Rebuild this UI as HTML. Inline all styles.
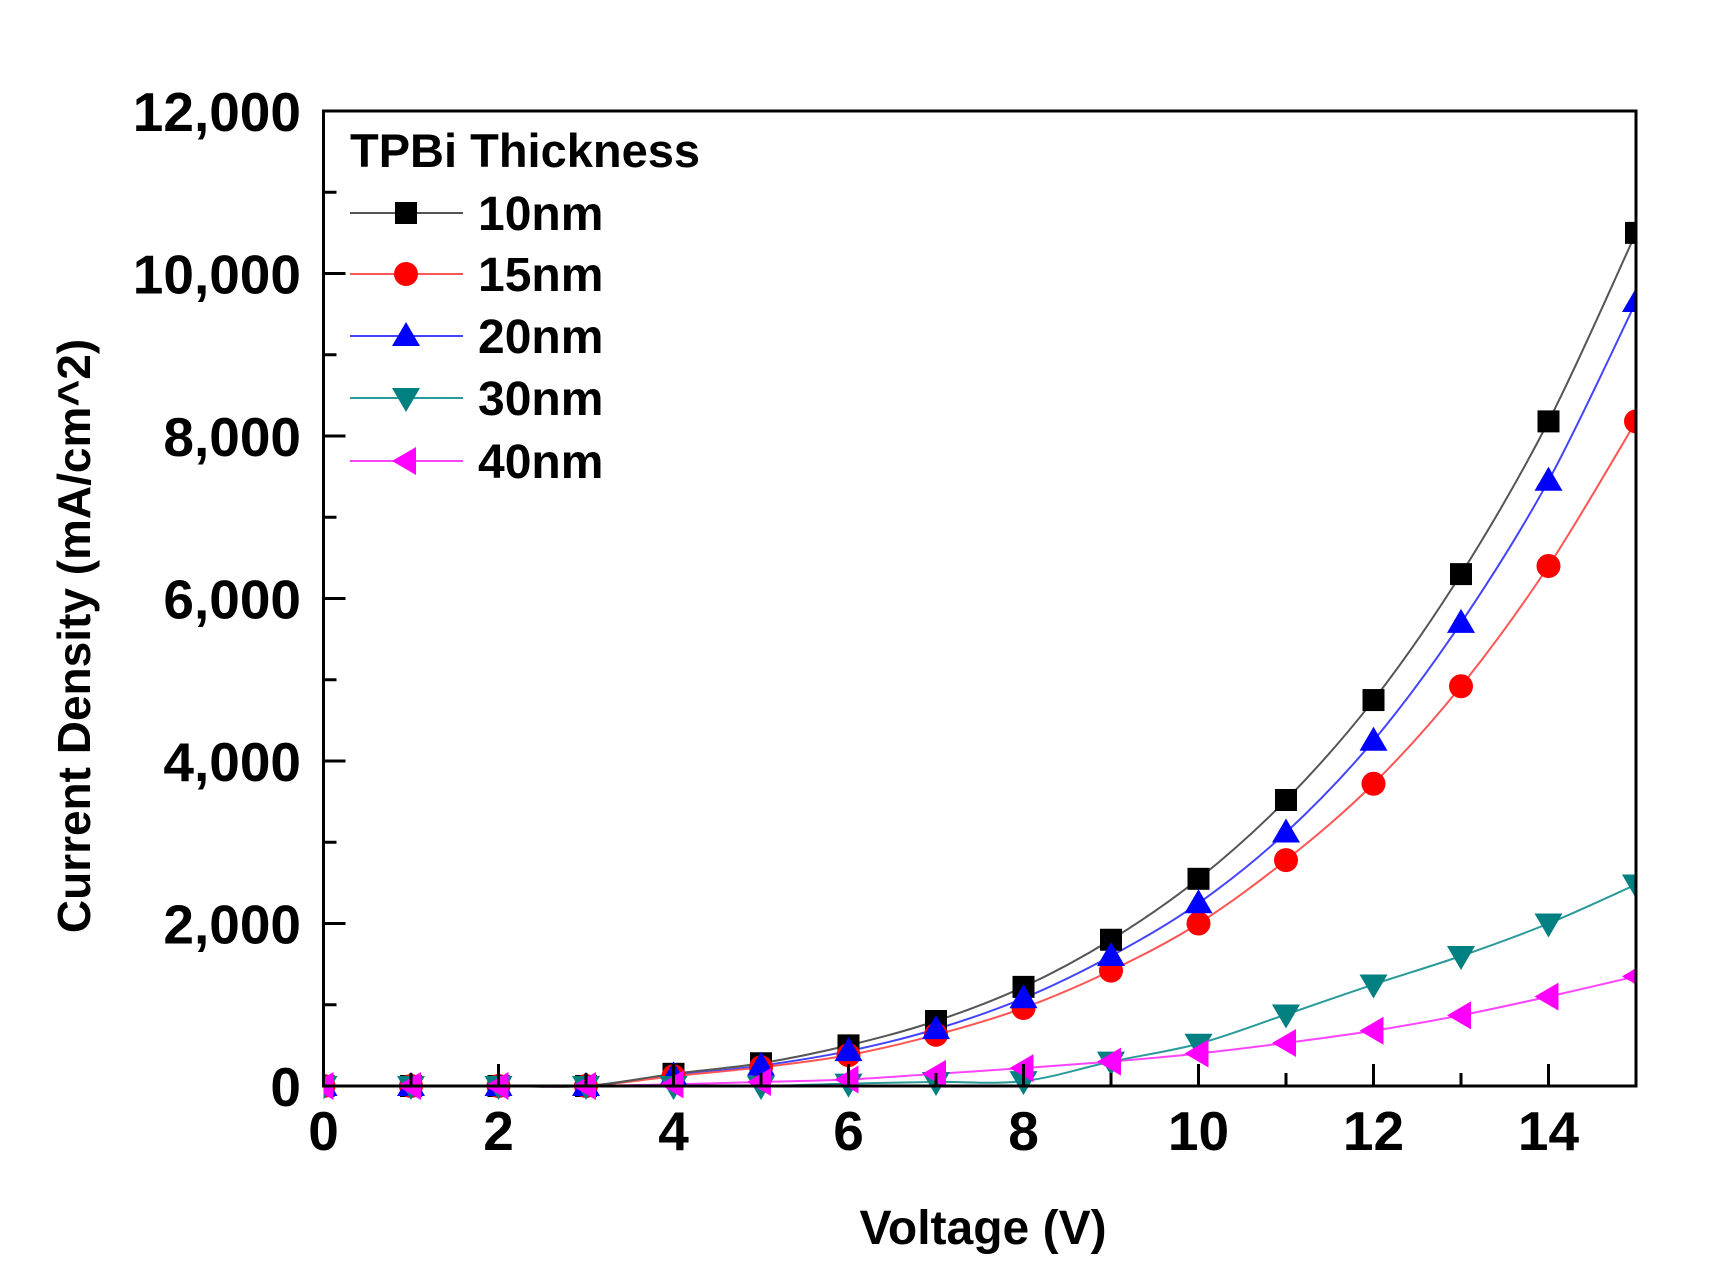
<!DOCTYPE html>
<html><head><meta charset="utf-8"><style>
html,body{margin:0;padding:0;background:#fff;}
svg{display:block;}
text{font-family:"Liberation Sans",Arial,sans-serif;font-weight:bold;fill:#000;}
</style></head><body>
<svg id="s" width="1710" height="1284" viewBox="0 0 1710 1284" xmlns="http://www.w3.org/2000/svg"></svg>
<script>
const s=document.getElementById('s');
const X0=323.5,XS=87.5,Y0=1086,YS=0.08125;
const px=v=>X0+v*XS, py=v=>Y0-v*YS;
let h='';
const series=[
 {c:'#000',lc:'#555',m:'sq',d:[0,0,0,0,150,280,500,800,1220,1800,2550,3520,4750,6300,8180,10500]},
 {c:'#ff0000',lc:'#f55',m:'ci',d:[0,0,0,0,120,230,380,630,960,1420,2000,2780,3720,4920,6400,8180]},
 {c:'#0000ff',lc:'#44f',m:'up',d:[0,0,0,0,130,250,430,700,1080,1600,2250,3120,4250,5700,7450,9650]},
 {c:'#008080',lc:'#2a9a9a',m:'dn',d:[0,0,0,0,0,0,30,50,60,300,520,880,1250,1600,2000,2480]},
 {c:'#ff00ff',lc:'#f4f',m:'lt',d:[0,0,0,0,20,50,80,150,220,300,400,530,680,870,1100,1350]}
];
function marker(t,x,y,c){
 if(t==='sq')return `<rect x="${x-11}" y="${y-11}" width="22" height="22" fill="${c}"/>`;
 if(t==='ci')return `<circle cx="${x}" cy="${y}" r="12" fill="${c}"/>`;
 if(t==='up')return `<polygon points="${x},${y-14} ${x+14},${y+10} ${x-14},${y+10}" fill="${c}"/>`;
 if(t==='dn')return `<polygon points="${x},${y+14} ${x+14},${y-10} ${x-14},${y-10}" fill="${c}"/>`;
 return `<polygon points="${x-14},${y} ${x+10},${y-14} ${x+10},${y+14}" fill="${c}"/>`;
}
function path(pts){
 let d=`M${pts[0][0]},${pts[0][1]}`;
 for(let i=0;i<pts.length-1;i++){
  const p0=pts[Math.max(0,i-1)],p1=pts[i],p2=pts[i+1],p3=pts[Math.min(pts.length-1,i+2)];
  const c1=[p1[0]+(p2[0]-p0[0])/6,p1[1]+(p2[1]-p0[1])/6],c2=[p2[0]-(p3[0]-p1[0])/6,p2[1]-(p3[1]-p1[1])/6];
  d+=` C${c1[0]},${c1[1]} ${c2[0]},${c2[1]} ${p2[0]},${p2[1]}`;
 }
 return d;
}
h+=`<defs><clipPath id="cp"><rect x="${X0}" y="111" width="${px(15)-X0}" height="${Y0-111+15}"/></clipPath></defs>`;
h+='<g clip-path="url(#cp)">';
for(let k=series.length-1;k>=0;k--){const S=series[k];
 const pts=S.d.map((v,i)=>[px(i),py(v)]);
 h+=`<path d="${path(pts)}" fill="none" stroke="${S.lc}" stroke-width="2"/>`;
}
for(let k=0;k<series.length;k++){const S=series[k];
 S.d.forEach((v,i)=>{h+=marker(S.m,px(i),py(v),S.c);});
}
h+='</g>';
h+=`<rect x="${X0}" y="111" width="${px(15)-X0}" height="${Y0-111}" fill="none" stroke="#000" stroke-width="3"/>`;
for(let v=0;v<=12000;v+=1000){const y=py(v);const maj=v%2000===0;
 h+=`<line x1="${X0}" y1="${y}" x2="${X0+(maj?22:13)}" y2="${y}" stroke="#000" stroke-width="3"/>`;
 if(maj)h+=`<text x="301" y="${y+20}" font-size="55" text-anchor="end">${v.toLocaleString('en-US')}</text>`;
}
for(let v=0;v<=15;v++){const x=px(v);const maj=v%2===0;
 h+=`<line x1="${x}" y1="${Y0}" x2="${x}" y2="${Y0-(maj?22:13)}" stroke="#000" stroke-width="3"/>`;
 if(maj)h+=`<text x="${x}" y="1150" font-size="55" text-anchor="middle">${v}</text>`;
}
h+=`<text x="983" y="1244" font-size="48" text-anchor="middle">Voltage (V)</text>`;
h+=`<text transform="translate(90,636) rotate(-90)" font-size="46" text-anchor="middle">Current Density (mA/cm^2)</text>`;
h+=`<text x="350" y="167" font-size="47">TPBi Thickness</text>`;
const ly=[213,274,336,398,461],names=['10nm','15nm','20nm','30nm','40nm'];
series.forEach((S,i)=>{
 h+=`<line x1="350" y1="${ly[i]}" x2="463" y2="${ly[i]}" stroke="${S.lc}" stroke-width="2"/>`;
 h+=marker(S.m,406,ly[i],S.c);
 h+=`<text x="478" y="${ly[i]+17}" font-size="48">${names[i]}</text>`;
});
s.innerHTML=h;
</script>
</body></html>
